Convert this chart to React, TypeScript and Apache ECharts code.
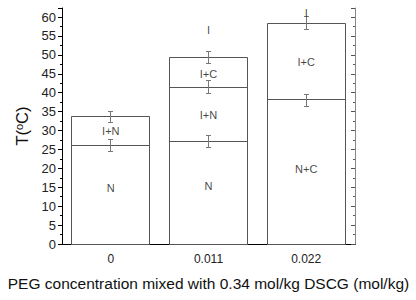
import React, { useEffect, useRef } from "react";
import * as echarts from "echarts";

const categories = ["0", "0.011", "0.022"];
// phase boundaries (°C) per category
const lowerBoundary = [26.0, 27.2, 38.1];
const middleBoundary = [33.8, 41.4, 58.2];
const upperBoundary: (number | null)[] = [null, 49.4, null];

// error bars: category index, centre value, half-size
const errCats = [0, 0, 1, 1, 1, 2, 2];
const errValues = [26.0, 33.5, 27.1, 41.4, 49.35, 37.9, 58.45];
const errSizes = [1.6, 1.5, 1.6, 1.7, 1.55, 1.6, 1.65];

// phase labels
const labelCats = [0, 0, 1, 1, 1, 1, 2, 2, 2];
const labelValues = [29.9, 14.8, 56.6, 44.9, 34.1, 15.3, 61.0, 48.2, 19.8];
const labelTexts = ["I+N", "N", "I", "I+C", "I+N", "N", "I", "I+C", "N+C"];

const yMin = 0;
const yMax = 62.4;
const yInterval = 5;

const FONT = "Liberation Sans, Arial, sans-serif";

export default function App() {
  const ref = useRef<HTMLDivElement>(null);
  useEffect(() => {
    if (!ref.current) return;
    const chart = echarts.init(ref.current, null, { renderer: "svg" });
    const barData = categories.map((_, i) => [
      i,
      upperBoundary[i] != null ? (upperBoundary[i] as number) : middleBoundary[i],
      lowerBoundary[i],
      middleBoundary[i],
      upperBoundary[i] != null ? (upperBoundary[i] as number) : -1,
    ]);
    const snap = (v: number) => Math.round(v - 0.5) + 0.5;
    const lineStyle = { stroke: "#555", lineWidth: 1, fill: null };
    const option: any = {
      animation: false,
      grid: { left: 62, right: 61, top: 8, bottom: 56 },
      xAxis: [
        {
          type: "category",
          data: categories,
          position: "bottom",
          axisLine: { lineStyle: { color: "#000", width: 1 } },
          axisTick: { alignWithLabel: true, length: 4, lineStyle: { color: "#000" } },
          axisLabel: { color: "#222", fontSize: 12, fontFamily: FONT, margin: 9 },
          name: "PEG concentration mixed with 0.34 mol/kg DSCG (mol/kg)",
          nameLocation: "middle",
          nameGap: 31,
          nameTextStyle: { color: "#111", fontSize: 15.5, fontFamily: FONT },
        },
        {
          type: "category",
          data: categories,
          position: "top",
          axisLine: { lineStyle: { color: "#000", width: 1 } },
          axisTick: { alignWithLabel: true, inside: true, length: 4, lineStyle: { color: "#000" } },
          axisLabel: { show: false },
        },
      ],
      yAxis: [
        {
          type: "value",
          min: yMin,
          max: yMax,
          interval: yInterval,
          position: "left",
          axisLine: { show: true, lineStyle: { color: "#000", width: 1 } },
          axisTick: { show: true, length: 4, lineStyle: { color: "#000" } },
          minorTick: { show: true, splitNumber: 2, length: 2, lineStyle: { color: "#000" } },
          splitLine: { show: false },
          axisLabel: {
            color: "#222",
            fontSize: 13,
            fontFamily: FONT,
            margin: 6,
            showMaxLabel: false,
            formatter: (v: number) => (v % 5 === 0 && v <= 60 ? String(v) : ""),
          },
          name: "T({sup|o}C)",
          nameLocation: "middle",
          nameGap: 23,
          nameTextStyle: {
            color: "#111",
            fontSize: 16.5,
            fontFamily: FONT,
            rich: {
              sup: { fontSize: 11, fontFamily: FONT, color: "#111", verticalAlign: "top", padding: [0, 0, 7, 0] },
            },
          },
        },
        {
          type: "value",
          min: yMin,
          max: yMax,
          interval: yInterval,
          position: "right",
          axisLine: { show: true, lineStyle: { color: "#888", width: 1 } },
          axisTick: { show: true, inside: true, length: 4, lineStyle: { color: "#555" } },
          minorTick: { show: true, splitNumber: 2, length: 2, lineStyle: { color: "#555" } },
          splitLine: { show: false },
          axisLabel: { show: false },
        },
      ],
      series: [
        {
          type: "custom",
          z: 2,
          data: barData,
          encode: { x: 0, y: [1, 2, 3] },
          renderItem: (params: any, api: any) => {
            const c = api.value(0);
            const top = api.value(1);
            const b1 = api.value(2);
            const b2 = api.value(3);
            const b3 = api.value(4);
            const bw = api.size([1, 0])[0] * 0.8;
            const center = api.coord([c, 0]);
            const x0 = snap(center[0] - bw / 2);
            const x1 = snap(center[0] + bw / 2);
            const y0 = snap(center[1]);
            const yt = snap(api.coord([c, top])[1]);
            const children: any[] = [
              { type: "rect", shape: { x: x0, y: yt, width: x1 - x0, height: y0 - yt }, style: { fill: "#fff", stroke: "#555", lineWidth: 1 } },
            ];
            const bounds = [b1, b2];
            if (b3 > 0) bounds.push(b3);
            bounds.forEach((b) => {
              const y = snap(api.coord([c, b])[1]);
              if (Math.abs(y - yt) > 0.5) {
                children.push({ type: "line", shape: { x1: x0, y1: y, x2: x1, y2: y }, style: lineStyle });
              }
            });
            return { type: "group", children };
          },
        },
        {
          type: "custom",
          z: 5,
          data: errCats.map((c, i) => [c, errValues[i] - errSizes[i], errValues[i] + errSizes[i]]),
          encode: { x: 0, y: [1, 2] },
          renderItem: (params: any, api: any) => {
            const c = api.value(0);
            const lo = api.coord([c, api.value(1)]);
            const hi = api.coord([c, api.value(2)]);
            const w = 2.5;
            const x = snap(lo[0]);
            const style = { stroke: "#777", lineWidth: 1 };
            return {
              type: "group",
              children: [
                { type: "line", shape: { x1: x, y1: lo[1], x2: x, y2: hi[1] }, style },
                { type: "line", shape: { x1: x - w, y1: snap(lo[1]), x2: x + w, y2: snap(lo[1]) }, style },
                { type: "line", shape: { x1: x - w, y1: snap(hi[1]), x2: x + w, y2: snap(hi[1]) }, style },
              ],
            };
          },
        },
        {
          type: "scatter",
          z: 6,
          symbolSize: 0,
          data: labelCats.map((c, i) => [c, labelValues[i], labelTexts[i]]),
          label: {
            show: true,
            position: "inside",
            formatter: (p: any) => p.data[2],
            color: "#111",
            fontSize: 11,
            fontFamily: FONT,
          },
        },
      ],
    };
    chart.setOption(option);
    return () => chart.dispose();
  }, []);
  return (
    <div
      ref={ref}
      style={{ position: "absolute", left: 0, top: 0, width: 416, height: 300 }}
    />
  );
}
